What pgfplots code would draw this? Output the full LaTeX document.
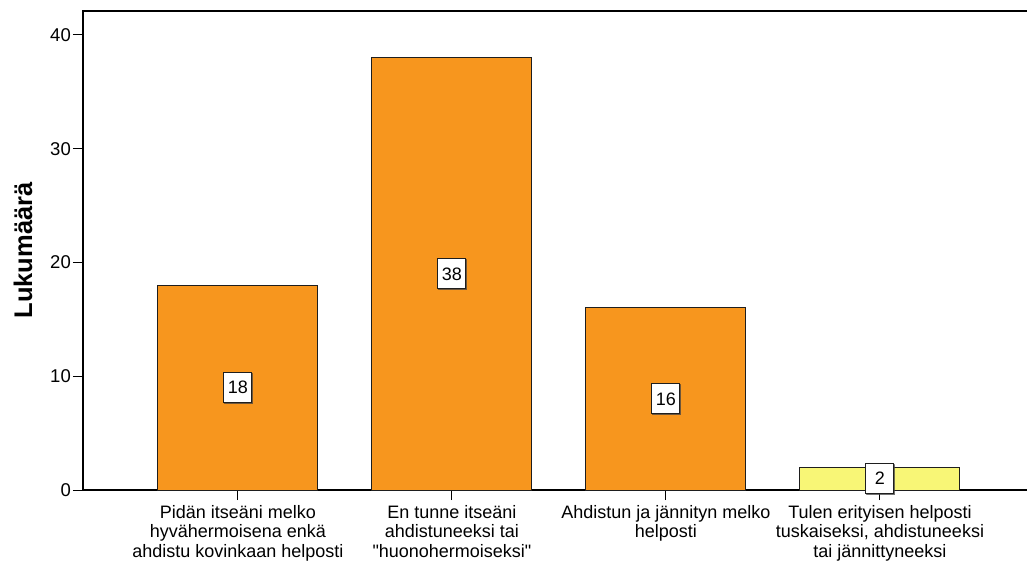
\documentclass[border=0pt]{standalone}
\usepackage{fontspec}
\defaultfontfeatures[\rmfamily]{}
\setmainfont{Liberation Sans}
\newfontfamily\qfont{Liberation Sans}
\usepackage{pgfplots}
\pgfplotsset{compat=1.18}
\usetikzlibrary{shadows}
\definecolor{barorange}{RGB}{247,150,30}
\definecolor{baryellow}{RGB}{248,246,118}
\definecolor{edge}{RGB}{30,30,30}
\tikzset{label box/.style={fill=white, draw=edge, line width=1pt, inner sep=3pt,
    minimum height=30pt, minimum width=28pt, font=\fontsize{18}{20}\selectfont,
    drop shadow={shadow xshift=1pt, shadow yshift=-1pt, fill=black!45}}}
\begin{document}
\begin{tikzpicture}
\begin{axis}[
    name=ax,
    scale only axis,
    width=950pt, height=479pt,
    xmin=-0.724, xmax=3.715,
    ymin=0, ymax=42.1,
    xtick={0,1,2,3},
    xticklabels={
        {Pidän itseäni melko\\hyvähermoisena enkä\\ahdistu kovinkaan helposti},
        {En tunne itseäni\\ahdistuneeksi tai\\{\qfont"}huonohermoiseksi{\qfont"}},
        {Ahdistun ja jännityn melko\\helposti},
        {Tulen erityisen helposti\\tuskaiseksi, ahdistuneeksi\\tai jännittyneeksi}},
    ytick={0,10,20,30,40},
    tick align=outside,
    xtick pos=bottom, ytick pos=left,
    major tick length=10pt,
    tick style={black, line width=1pt},
    axis line style={black, line width=1.2pt},
    /pgf/number format/assume math mode=true,
    yticklabel style={font=\fontsize{18.5}{20}\selectfont, inner sep=2pt},
    xticklabel style={font=\fontsize{18}{19.5}\selectfont, align=center, inner sep=2pt, yshift=-3pt},
    ylabel={Lukumäärä},
    every axis y label/.style={at={(axis description cs:0,0.5)}, xshift=-60pt,
        rotate=90, anchor=center, font=\bfseries\fontsize{25.5}{28}\selectfont},
    clip=false,
]
\addplot[ybar, bar width=160pt, fill=barorange, draw=edge, line width=1pt,
    nodes near coords,
    visualization depends on={y \as \rawy},
    every node near coord/.append style={label box, anchor=center,
        shift={(axis direction cs:0,-\rawy/2)}}]
    coordinates {(0,18) (1,38) (2,16)};
\addplot[ybar, bar width=160pt, fill=baryellow, draw=edge, line width=1pt,
    nodes near coords,
    visualization depends on={y \as \rawy},
    every node near coord/.append style={label box, anchor=center,
        shift={(axis direction cs:0,-\rawy/2)}}]
    coordinates {(3,2)};
\draw[black, line width=2.2pt] (axis description cs:0,0) -- (axis description cs:0,1);
\end{axis}
\pgfresetboundingbox
\path (ax.south west) ++(-83pt,-70pt) rectangle ++(1027pt,560pt);
\end{tikzpicture}
\end{document}
